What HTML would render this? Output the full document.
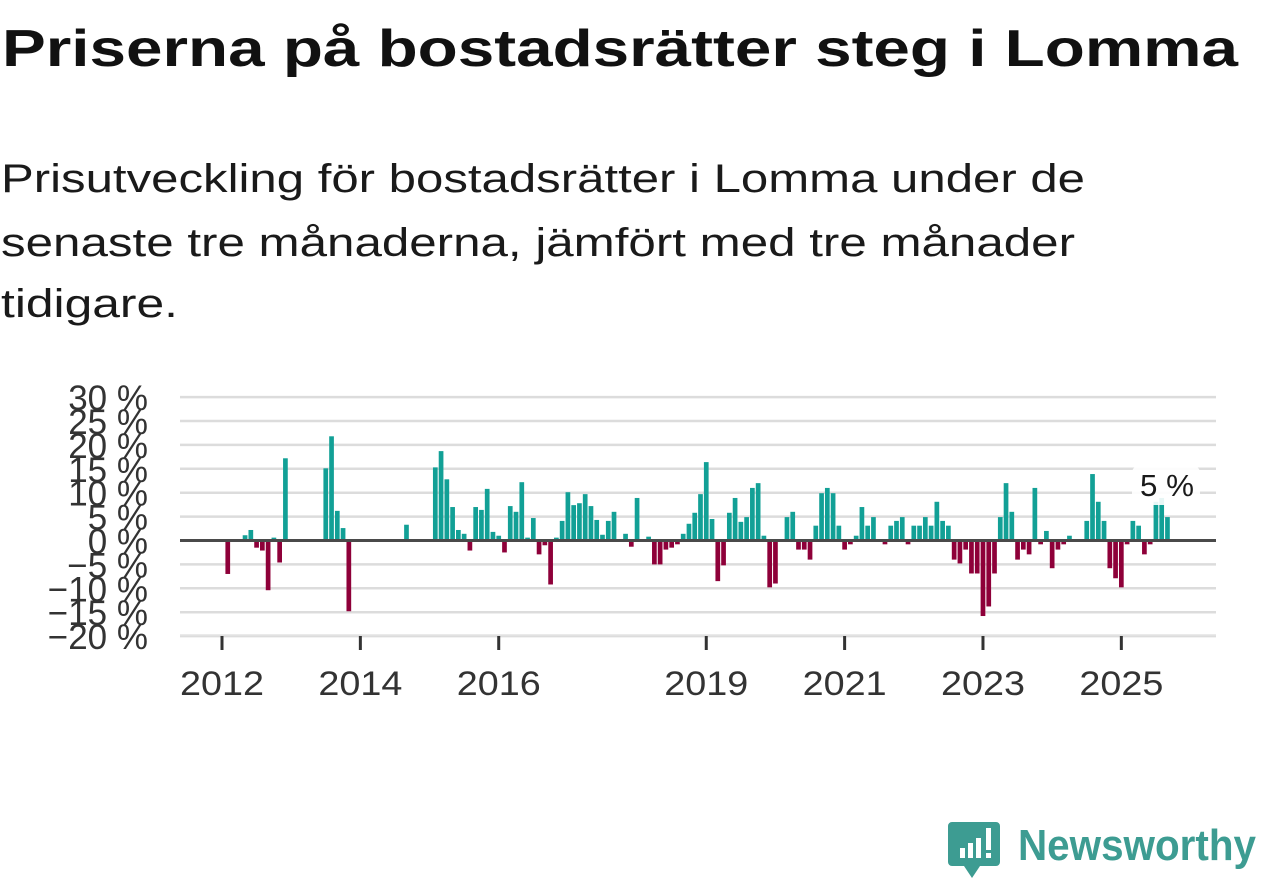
<!DOCTYPE html>
<html><head><meta charset="utf-8">
<style>
html,body{margin:0;padding:0;background:#fff;}
body{width:1262px;height:879px;overflow:hidden;font-family:"Liberation Sans","DejaVu Sans",sans-serif;}
svg{display:block}
</style></head>
<body>
<svg id="chart" width="1262" height="879" viewBox="0 0 1262 879" xmlns="http://www.w3.org/2000/svg">
  <text x="2" y="66" font-family="Liberation Sans, sans-serif" font-weight="bold" font-size="52" fill="#111" textLength="1236" lengthAdjust="spacingAndGlyphs">Priserna på bostadsrätter steg i Lomma</text>
  <g font-family="Liberation Sans, sans-serif" font-size="40" fill="#1a1a1a">
    <text x="1" y="192" textLength="1084" lengthAdjust="spacingAndGlyphs">Prisutveckling för bostadsrätter i Lomma under de</text>
    <text x="1" y="256" textLength="1074" lengthAdjust="spacingAndGlyphs">senaste tre månaderna, jämfört med tre månader</text>
    <text x="1" y="317" textLength="177" lengthAdjust="spacingAndGlyphs">tidigare.</text>
  </g>
  <g id="grid"></g>
  <g id="bars"></g>
  <g id="axes"></g>
  <g>
    <rect x="1132" y="465" width="68" height="40" rx="8" fill="#fff" opacity="0.9"/>
    <text x="1167" y="496" text-anchor="middle" font-family="Liberation Sans, sans-serif" font-size="31" fill="#1a1a1a" textLength="54" lengthAdjust="spacingAndGlyphs">5 %</text>
  </g>
  <g>
    <path d="M952 822 h44 a4 4 0 0 1 4 4 v36 a4 4 0 0 1 -4 4 h-16 l-8 12 l-8 -12 h-12 a4 4 0 0 1 -4 -4 v-36 a4 4 0 0 1 4 -4z" fill="#3d9c92"/>
    <rect x="960" y="848" width="5" height="10" fill="#fff"/>
    <rect x="968" y="843" width="5" height="15" fill="#fff"/>
    <rect x="976" y="838" width="5" height="20" fill="#fff"/>
    <rect x="986" y="828" width="5" height="22" fill="#fff"/>
    <rect x="986" y="853" width="5" height="5" fill="#fff"/>
    <text x="1018" y="860" font-family="Liberation Sans, sans-serif" font-weight="bold" font-size="44" fill="#3d9c92" textLength="238" lengthAdjust="spacingAndGlyphs">Newsworthy</text>
  </g>
</svg>
<script>
// Data (monthly, starting Jan 2012)
const startYear = 2012;
const values = [0,-7.0,0,0,1.1,2.2,-1.5,-2.1,-10.4,0.6,-4.6,17.2,
0,0,0,0,0,0,15.1,21.8,6.2,2.6,-14.8,0,
0,0,0,0,0,0,0,0,3.3,0,0,0,
0,15.3,18.7,12.8,7.0,2.2,1.4,-2.1,7.0,6.4,10.8,1.8,
1.0,-2.5,7.2,6.0,12.2,0.6,4.7,-2.9,-1.0,-9.2,0.6,4.1,
10.1,7.4,7.8,9.7,7.2,4.3,1.2,4.1,6.0,0,1.4,-1.3,
8.9,0,0.8,-5.0,-5.0,-1.9,-1.5,-0.8,1.4,3.5,5.8,9.7,
16.4,4.5,-8.5,-5.2,5.8,8.9,3.9,4.9,11.0,12.0,1.0,-9.8,
-9.0,0,4.9,6.0,-1.9,-1.9,-4.0,3.1,9.9,11.0,9.9,3.1,
-1.9,-0.8,1.0,7.0,3.1,4.9,0,-0.8,3.1,4.1,4.9,-0.8,
3.1,3.1,4.9,3.1,8.1,4.1,3.1,-4.0,-4.8,-1.9,-6.9,-6.9,
-15.8,-13.8,-6.9,4.9,12.0,6.0,-4.0,-1.9,-2.9,11.0,-0.8,2.0,
-5.8,-1.9,-0.8,1.0,0,0,4.1,13.9,8.1,4.1,-5.8,-7.9,
-9.8,-0.8,4.1,3.1,-2.9,-0.8,8.1,8.9,4.9];
const yTicks = [30,25,20,15,10,5,0,-5,-10,-15,-20];
const yTickLabels = ["30 %","25 %","20 %","15 %","10 %","5 %","0 %","\u22125 %","\u221210 %","\u221215 %","\u221220 %"];
const xTickYears = [2012,2014,2016,2019,2021,2023,2025];

const NS = "http://www.w3.org/2000/svg";
const x0 = 222, monthW = 5.765, barW = 4.7;
const yZero = 540.5, pxPer = 4.78;
function xScale(m){ return x0 + m*monthW; }
function yScale(v){ return yZero - v*pxPer; }
function mk(tag, attrs){ const e=document.createElementNS(NS,tag); for(const k in attrs) e.setAttribute(k,attrs[k]); return e; }

const grid = document.getElementById('grid');
yTicks.forEach((t,i)=>{
  if(t!==0){
    const l = mk('line',{x1:180,x2:1216,y1:yScale(t),y2:yScale(t),stroke:'#dcdcdc','stroke-width':2.5});
    
    
    grid.appendChild(l);
  }
  const tx = mk('text',{x:148,y:yScale(t)+13,'text-anchor':'end','font-family':'Liberation Sans, sans-serif','font-size':35,fill:'#333'});
  tx.textContent = yTickLabels[i];
  
  
  grid.appendChild(tx);
});
const bottom = mk('line',{x1:180,x2:1216,y1:635,y2:635,stroke:'#e4e4e4','stroke-width':1.5});


grid.appendChild(bottom);

const bars = document.getElementById('bars');
values.forEach((v,m)=>{
  if(v===0) return;
  const y = v>0 ? yScale(v) : yZero;
  const h = Math.abs(yScale(v)-yZero);
  const r = mk('rect',{x:xScale(m)-barW/2,y:y,width:barW,height:h,fill:v>0?'#12a096':'#8e0039'});
  
  
  bars.appendChild(r);
});

const axes = document.getElementById('axes');
const zl = mk('line',{x1:180,x2:1216,y1:yZero,y2:yZero,stroke:'#4a4a4a','stroke-width':3});


axes.appendChild(zl);
xTickYears.forEach(yr=>{
  const m = (yr-startYear)*12;
  const x = xScale(m);
  const tk = mk('line',{x1:x,x2:x,y1:636,y2:650,stroke:'#333','stroke-width':3});
  
  
  axes.appendChild(tk);
  const t = mk('text',{x:x,y:695,'text-anchor':'middle','font-family':'Liberation Sans, sans-serif','font-size':34,fill:'#333',textLength:84,lengthAdjust:'spacingAndGlyphs'});
  t.textContent = String(yr);
  
  
  axes.appendChild(t);
});
</script>
</body></html>
